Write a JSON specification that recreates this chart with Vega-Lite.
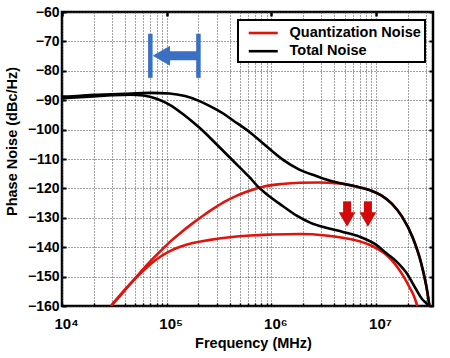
{
  "$schema": "https://vega.github.io/schema/vega-lite/v6.json",
  "width": 371,
  "height": 294,
  "autosize": {"type": "none"},
  "padding": {"left": 62, "top": 12, "right": 17, "bottom": 52},
  "background": "white",
  "config": {
    "font": "Liberation Sans",
    "view": {"stroke": "black", "strokeWidth": 2.5},
    "legend": {"strokeWidth": 2}
  },
  "datasets": {
    "curves": [
      {"curve": "q1", "kind": "Quantization Noise", "f": 29400, "db": -160},
      {"curve": "q1", "kind": "Quantization Noise", "f": 35500, "db": -156.7},
      {"curve": "q1", "kind": "Quantization Noise", "f": 44700, "db": -152.6},
      {"curve": "q1", "kind": "Quantization Noise", "f": 56200, "db": -148.5},
      {"curve": "q1", "kind": "Quantization Noise", "f": 70800, "db": -144.6},
      {"curve": "q1", "kind": "Quantization Noise", "f": 89100, "db": -141.0},
      {"curve": "q1", "kind": "Quantization Noise", "f": 112200, "db": -137.6},
      {"curve": "q1", "kind": "Quantization Noise", "f": 141300, "db": -134.6},
      {"curve": "q1", "kind": "Quantization Noise", "f": 177800, "db": -131.8},
      {"curve": "q1", "kind": "Quantization Noise", "f": 223900, "db": -129.2},
      {"curve": "q1", "kind": "Quantization Noise", "f": 281800, "db": -126.8},
      {"curve": "q1", "kind": "Quantization Noise", "f": 354800, "db": -124.6},
      {"curve": "q1", "kind": "Quantization Noise", "f": 446700, "db": -122.8},
      {"curve": "q1", "kind": "Quantization Noise", "f": 562300, "db": -121.3},
      {"curve": "q1", "kind": "Quantization Noise", "f": 707900, "db": -120.1},
      {"curve": "q1", "kind": "Quantization Noise", "f": 891300, "db": -119.2},
      {"curve": "q1", "kind": "Quantization Noise", "f": 1259000, "db": -118.5},
      {"curve": "q1", "kind": "Quantization Noise", "f": 1862000, "db": -118.1},
      {"curve": "q1", "kind": "Quantization Noise", "f": 2818000, "db": -118.0},
      {"curve": "q1", "kind": "Quantization Noise", "f": 3981000, "db": -118.2},
      {"curve": "q1", "kind": "Quantization Noise", "f": 4467000, "db": -118.3},
      {"curve": "q1", "kind": "Quantization Noise", "f": 6310000, "db": -119.3},
      {"curve": "q1", "kind": "Quantization Noise", "f": 8910000, "db": -120.7},
      {"curve": "q1", "kind": "Quantization Noise", "f": 11220000, "db": -122.4},
      {"curve": "q1", "kind": "Quantization Noise", "f": 14130000, "db": -125.2},
      {"curve": "q1", "kind": "Quantization Noise", "f": 17780000, "db": -129.7},
      {"curve": "q1", "kind": "Quantization Noise", "f": 22390000, "db": -136.7},
      {"curve": "q1", "kind": "Quantization Noise", "f": 26920000, "db": -145.3},
      {"curve": "q1", "kind": "Quantization Noise", "f": 30900000, "db": -155.2},
      {"curve": "q1", "kind": "Quantization Noise", "f": 32360000, "db": -160},

      {"curve": "q2", "kind": "Quantization Noise", "f": 29400, "db": -160},
      {"curve": "q2", "kind": "Quantization Noise", "f": 35500, "db": -156.5},
      {"curve": "q2", "kind": "Quantization Noise", "f": 44700, "db": -152.5},
      {"curve": "q2", "kind": "Quantization Noise", "f": 56200, "db": -148.9},
      {"curve": "q2", "kind": "Quantization Noise", "f": 70800, "db": -145.6},
      {"curve": "q2", "kind": "Quantization Noise", "f": 89100, "db": -143.0},
      {"curve": "q2", "kind": "Quantization Noise", "f": 112200, "db": -141.0},
      {"curve": "q2", "kind": "Quantization Noise", "f": 141300, "db": -139.6},
      {"curve": "q2", "kind": "Quantization Noise", "f": 177800, "db": -138.6},
      {"curve": "q2", "kind": "Quantization Noise", "f": 251200, "db": -137.6},
      {"curve": "q2", "kind": "Quantization Noise", "f": 398100, "db": -136.6},
      {"curve": "q2", "kind": "Quantization Noise", "f": 631000, "db": -136.0},
      {"curve": "q2", "kind": "Quantization Noise", "f": 1000000, "db": -135.7},
      {"curve": "q2", "kind": "Quantization Noise", "f": 1850000, "db": -135.5},
      {"curve": "q2", "kind": "Quantization Noise", "f": 3300000, "db": -136.0},
      {"curve": "q2", "kind": "Quantization Noise", "f": 4800000, "db": -136.8},
      {"curve": "q2", "kind": "Quantization Noise", "f": 6950000, "db": -138.0},
      {"curve": "q2", "kind": "Quantization Noise", "f": 10000000, "db": -140.3},
      {"curve": "q2", "kind": "Quantization Noise", "f": 12500000, "db": -142.6},
      {"curve": "q2", "kind": "Quantization Noise", "f": 15000000, "db": -145.5},
      {"curve": "q2", "kind": "Quantization Noise", "f": 18000000, "db": -149.5},
      {"curve": "q2", "kind": "Quantization Noise", "f": 21000000, "db": -153.8},
      {"curve": "q2", "kind": "Quantization Noise", "f": 23000000, "db": -156.6},
      {"curve": "q2", "kind": "Quantization Noise", "f": 24800000, "db": -160},

      {"curve": "t1", "kind": "Total Noise", "f": 10000, "db": -88.8},
      {"curve": "t1", "kind": "Total Noise", "f": 15000, "db": -88.5},
      {"curve": "t1", "kind": "Total Noise", "f": 20000, "db": -88.2},
      {"curve": "t1", "kind": "Total Noise", "f": 30000, "db": -88.0},
      {"curve": "t1", "kind": "Total Noise", "f": 40000, "db": -87.8},
      {"curve": "t1", "kind": "Total Noise", "f": 70000, "db": -87.5},
      {"curve": "t1", "kind": "Total Noise", "f": 106000, "db": -87.7},
      {"curve": "t1", "kind": "Total Noise", "f": 150000, "db": -88.6},
      {"curve": "t1", "kind": "Total Noise", "f": 206000, "db": -90.3},
      {"curve": "t1", "kind": "Total Noise", "f": 256000, "db": -91.9},
      {"curve": "t1", "kind": "Total Noise", "f": 350000, "db": -94.6},
      {"curve": "t1", "kind": "Total Noise", "f": 428000, "db": -96.8},
      {"curve": "t1", "kind": "Total Noise", "f": 618000, "db": -100.8},
      {"curve": "t1", "kind": "Total Noise", "f": 891000, "db": -105.6},
      {"curve": "t1", "kind": "Total Noise", "f": 1285000, "db": -110.2},
      {"curve": "t1", "kind": "Total Noise", "f": 1850000, "db": -113.6},
      {"curve": "t1", "kind": "Total Noise", "f": 2680000, "db": -115.8},
      {"curve": "t1", "kind": "Total Noise", "f": 3160000, "db": -116.7},
      {"curve": "t1", "kind": "Total Noise", "f": 4467000, "db": -118.2},
      {"curve": "t1", "kind": "Total Noise", "f": 6310000, "db": -119.3},
      {"curve": "t1", "kind": "Total Noise", "f": 8910000, "db": -120.7},
      {"curve": "t1", "kind": "Total Noise", "f": 11220000, "db": -122.4},
      {"curve": "t1", "kind": "Total Noise", "f": 14130000, "db": -125.2},
      {"curve": "t1", "kind": "Total Noise", "f": 17780000, "db": -129.7},
      {"curve": "t1", "kind": "Total Noise", "f": 22390000, "db": -136.7},
      {"curve": "t1", "kind": "Total Noise", "f": 26920000, "db": -145.3},
      {"curve": "t1", "kind": "Total Noise", "f": 30900000, "db": -155.2},
      {"curve": "t1", "kind": "Total Noise", "f": 32360000, "db": -160},

      {"curve": "t2", "kind": "Total Noise", "f": 10000, "db": -89.3},
      {"curve": "t2", "kind": "Total Noise", "f": 20000, "db": -88.7},
      {"curve": "t2", "kind": "Total Noise", "f": 30000, "db": -88.3},
      {"curve": "t2", "kind": "Total Noise", "f": 45000, "db": -88.1},
      {"curve": "t2", "kind": "Total Noise", "f": 60000, "db": -88.4},
      {"curve": "t2", "kind": "Total Noise", "f": 80000, "db": -89.5},
      {"curve": "t2", "kind": "Total Noise", "f": 106000, "db": -91.5},
      {"curve": "t2", "kind": "Total Noise", "f": 150000, "db": -95.3},
      {"curve": "t2", "kind": "Total Noise", "f": 206000, "db": -99.4},
      {"curve": "t2", "kind": "Total Noise", "f": 296000, "db": -104.8},
      {"curve": "t2", "kind": "Total Noise", "f": 428000, "db": -110.5},
      {"curve": "t2", "kind": "Total Noise", "f": 618000, "db": -116.2},
      {"curve": "t2", "kind": "Total Noise", "f": 741000, "db": -119.3},
      {"curve": "t2", "kind": "Total Noise", "f": 891000, "db": -121.8},
      {"curve": "t2", "kind": "Total Noise", "f": 1285000, "db": -126.0},
      {"curve": "t2", "kind": "Total Noise", "f": 1730000, "db": -129.2},
      {"curve": "t2", "kind": "Total Noise", "f": 2400000, "db": -131.8},
      {"curve": "t2", "kind": "Total Noise", "f": 3340000, "db": -133.4},
      {"curve": "t2", "kind": "Total Noise", "f": 4820000, "db": -134.8},
      {"curve": "t2", "kind": "Total Noise", "f": 6950000, "db": -136.4},
      {"curve": "t2", "kind": "Total Noise", "f": 10050000, "db": -139.2},
      {"curve": "t2", "kind": "Total Noise", "f": 12500000, "db": -142.0},
      {"curve": "t2", "kind": "Total Noise", "f": 15600000, "db": -144.8},
      {"curve": "t2", "kind": "Total Noise", "f": 19500000, "db": -148.7},
      {"curve": "t2", "kind": "Total Noise", "f": 24200000, "db": -154.4},
      {"curve": "t2", "kind": "Total Noise", "f": 27500000, "db": -157.6},
      {"curve": "t2", "kind": "Total Noise", "f": 30200000, "db": -159.0},
      {"curve": "t2", "kind": "Total Noise", "f": 32200000, "db": -160}
    ],
    "blueBars": [
      {"f": 69800, "top": -67.4, "bot": -82.4},
      {"f": 201000, "top": -67.4, "bot": -82.4}
    ],
    "blueShaft": [{"f": 89000, "f2": 199000, "db": -74.9}],
    "redArrows": [
      {"f": 5290000, "top": -124.4, "bot": -129.5, "head": -130.6},
      {"f": 8360000, "top": -124.4, "bot": -129.5, "head": -130.6}
    ]
  },
  "layer": [
    {
      "data": {"name": "curves"},
      "transform": [{"filter": "datum.kind == 'Quantization Noise'"}],
      "mark": {"type": "line", "interpolate": "monotone", "strokeWidth": 2.6, "clip": true},
      "encoding": {
        "x": {
          "field": "f", "type": "quantitative",
          "scale": {"type": "log", "domain": [10000, 35000000], "nice": false},
          "axis": {
            "orient": "bottom",
            "values": [10000, 20000, 30000, 40000, 50000, 60000, 70000, 80000, 90000, 100000, 200000, 300000, 400000, 500000, 600000, 700000, 800000, 900000, 1000000, 2000000, 3000000, 4000000, 5000000, 6000000, 7000000, 8000000, 9000000, 10000000, 20000000, 30000000],
            "labelExpr": "datum.value == 10000 ? '10⁴' : datum.value == 100000 ? '10⁵' : datum.value == 1000000 ? '10⁶' : datum.value == 10000000 ? '10⁷' : ''",
            "title": "Frequency (MHz)",
            "grid": true, "gridDash": [1, 2], "gridColor": "#444", "gridWidth": 1,
            "domain": false,
            "tickSize": -3, "tickColor": "black", "tickWidth": 1.5,
            "labelFont": "Liberation Sans", "labelFontWeight": "bold", "labelFontSize": 15, "labelColor": "black",
            "labelPadding": 13, "labelOffset": 4, "labelAngle": 0, "labelFlush": false, "labelOverlap": false,
            "titleFont": "Liberation Sans", "titleFontSize": 14.5, "titleFontWeight": "bold", "titleColor": "black",
            "titleX": 191, "titleY": 37, "titleBaseline": "middle", "titleAlign": "center"
          }
        },
        "y": {
          "field": "db", "type": "quantitative",
          "scale": {"domain": [-160, -60], "nice": false, "zero": false},
          "axis": {
            "orient": "left",
            "values": [-160, -150, -140, -130, -120, -110, -100, -90, -80, -70, -60],
            "title": "Phase Noise (dBc/Hz)",
            "grid": true, "gridDash": [1, 2], "gridColor": "#444", "gridWidth": 1,
            "domain": false,
            "tickSize": -4, "tickColor": "black", "tickWidth": 2,
            "labelFont": "Liberation Sans", "labelFontWeight": "bold", "labelFontSize": 14, "labelColor": "black",
            "labelPadding": 7,
            "titleFont": "Liberation Sans", "titleFontSize": 14.5, "titleFontWeight": "bold", "titleColor": "black",
            "titleX": -49.5, "titleY": 129, "titleBaseline": "middle", "titleAlign": "center", "titleAngle": -90
          }
        },
        "color": {
          "field": "kind", "type": "nominal",
          "scale": {"domain": ["Quantization Noise", "Total Noise"], "range": ["#E3120B", "#000000"]},
          "legend": {
            "orient": "none", "legendX": 176, "legendY": 8, "title": null,
            "symbolType": "M-1,0L3,0", "symbolSize": 210, "symbolStrokeWidth": 2.6, "symbolOffset": 5,
            "labelOffset": 24.5, "rowPadding": 2.2, "padding": 4,
            "strokeColor": "black", "fillColor": "white",
            "labelFont": "Liberation Sans", "labelFontSize": 14.5, "labelFontWeight": "bold", "labelColor": "black"
          }
        },
        "detail": {"field": "curve"}
      }
    },
    {
      "data": {"name": "curves"},
      "transform": [{"filter": "datum.kind == 'Total Noise'"}],
      "mark": {"type": "line", "interpolate": "monotone", "strokeWidth": 2.6, "clip": true},
      "encoding": {
        "x": {"field": "f", "type": "quantitative", "axis": null},
        "y": {"field": "db", "type": "quantitative", "axis": null},
        "color": {"field": "kind", "type": "nominal"},
        "detail": {"field": "curve"}
      }
    },
    {
      "data": {"name": "blueBars"},
      "mark": {"type": "rule", "color": "#3A6FC4", "strokeWidth": 4.5},
      "encoding": {
        "x": {
          "field": "f", "type": "quantitative",
          "axis": {"orient": "top", "values": [10000, 100000, 1000000, 10000000], "labels": false, "grid": false, "domain": false, "title": null, "tickSize": -4, "tickWidth": 2.5, "tickColor": "black"}
        },
        "y": {
          "field": "top", "type": "quantitative",
          "axis": {"orient": "right", "values": [-160, -150, -140, -130, -120, -110, -100, -90, -80, -70, -60], "labels": false, "grid": false, "domain": false, "title": null, "tickSize": -4, "tickWidth": 2, "tickColor": "black"}
        },
        "y2": {"field": "bot"}
      }
    },
    {
      "data": {"name": "blueShaft"},
      "mark": {"type": "rule", "color": "#3A6FC4", "strokeWidth": 9, "strokeCap": "butt"},
      "encoding": {
        "x": {"field": "f", "type": "quantitative", "axis": null},
        "x2": {"field": "f2"},
        "y": {"field": "db", "type": "quantitative", "axis": null}
      }
    },
    {
      "data": {"name": "blueShaft"},
      "mark": {"type": "point", "shape": "triangle-left", "filled": true, "color": "#3A6FC4", "opacity": 1, "size": 400},
      "encoding": {
        "x": {"field": "f", "type": "quantitative", "axis": null},
        "y": {"field": "db", "type": "quantitative", "axis": null}
      }
    },
    {
      "data": {"name": "redArrows"},
      "mark": {"type": "rule", "color": "#D40A0A", "strokeWidth": 8, "strokeCap": "butt"},
      "encoding": {
        "x": {"field": "f", "type": "quantitative", "axis": null},
        "y": {"field": "top", "type": "quantitative", "axis": null},
        "y2": {"field": "bot"}
      }
    },
    {
      "data": {"name": "redArrows"},
      "mark": {"type": "point", "shape": "triangle-down", "filled": true, "color": "#D40A0A", "opacity": 1, "size": 280},
      "encoding": {
        "x": {"field": "f", "type": "quantitative", "axis": null},
        "y": {"field": "head", "type": "quantitative", "axis": null}
      }
    }
  ],
  "resolve": {"axis": {"x": "independent", "y": "independent"}}
}
